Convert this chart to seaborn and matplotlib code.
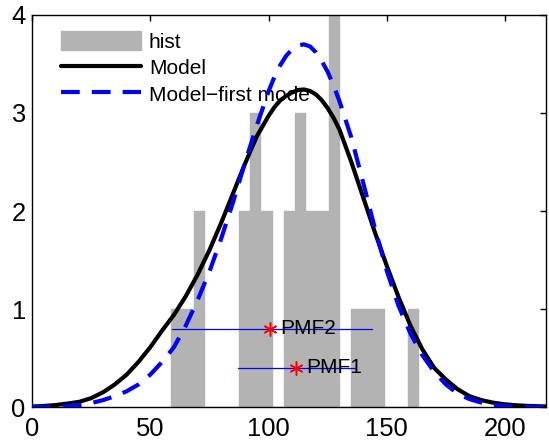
import numpy as np
import pandas as pd
import matplotlib
matplotlib.use("Agg")
import matplotlib.pyplot as plt
import seaborn as sns
from matplotlib.patches import Patch
from matplotlib.lines import Line2D

# ---------------- data ----------------
hist_counts = [1, 1, 2, 0, 0, 0, 2, 3, 2, 0, 2, 3, 2, 2, 4, 0, 1, 1, 1, 0, 0, 1]
hist_lo, hist_hi = 58.9, 163.6

curve_x = [0, 5, 10, 15, 20, 25, 30, 35, 40, 45, 50, 55, 60, 65, 70, 75, 80, 85, 90,
           95, 100, 102.5, 105, 107.5, 110, 112.5, 115, 117.5, 120, 122.5, 125, 127.5,
           130, 135, 140, 145, 150, 155, 160, 165,
           170, 175, 180, 185, 190, 195, 200, 205, 210, 215, 220]
model_y = [0.005, 0.01, 0.02, 0.035, 0.053, 0.09, 0.15, 0.23, 0.33, 0.46, 0.61, 0.78,
           0.94, 1.13, 1.35, 1.60, 1.88, 2.18, 2.48, 2.76, 2.97, 3.06, 3.13, 3.175, 3.21,
           3.235, 3.24, 3.225, 3.19, 3.13, 3.05, 2.95,
           2.83, 2.50, 2.14, 1.78, 1.44, 1.12, 0.83, 0.59, 0.40, 0.28, 0.18, 0.11,
           0.07, 0.044, 0.027, 0.017, 0.011, 0.007, 0.004]
first_mode_y = [0.0, 0.002, 0.005, 0.01, 0.02, 0.04, 0.07, 0.11, 0.16, 0.23, 0.33, 0.46,
                0.61, 0.83, 1.09, 1.38, 1.72, 2.09, 2.49, 2.87, 3.22, 3.37, 3.49, 3.585,
                3.65, 3.69, 3.70, 3.68, 3.62, 3.53, 3.42, 3.28,
                3.12, 2.75, 2.29, 1.82, 1.39, 1.03, 0.75, 0.53, 0.36, 0.23,
                0.135, 0.08, 0.045, 0.022, 0.01, 0.005, 0.002, 0.001, 0.0]

pmf_labels = ["PMF1", "PMF2"]
pmf_center = [111.6, 100.6]
pmf_level = [0.4, 0.8]
pmf_lo = [87.2, 59.0]
pmf_hi = [136.5, 143.6]

legend_labels = ["hist", "Model", "Model\u2212first mode"]
x_ticks = [0, 50, 100, 150, 200]
y_ticks = [0, 1, 2, 3, 4]

# ---------------- style ----------------
sns.set_style("white")
plt.rcParams["font.family"] = ["Liberation Sans", "DejaVu Sans"]
plt.rcParams["text.color"] = "black"

W, H = 549, 448
fig = plt.figure(figsize=(W / 100, H / 100), dpi=100)
ax = fig.add_axes([32 / W, 41 / H, 514 / W, 392 / H])

gray = "#b3b3b3"
nb = len(hist_counts)
bw = (hist_hi - hist_lo) / nb
centers = [hist_lo + bw * (i + 0.5) for i in range(nb)]
hist_df = pd.DataFrame({"x": centers, "w": hist_counts})
sns.histplot(data=hist_df, x="x", weights="w", bins=nb, binrange=(hist_lo, hist_hi),
             stat="count", color=gray, alpha=1, edgecolor=gray, linewidth=0.3,
             ax=ax, zorder=1)

curve_df = pd.DataFrame({"x": curve_x, "model": model_y, "first": first_mode_y})
sns.lineplot(data=curve_df, x="x", y="model", color="black", linewidth=3,
             ax=ax, zorder=3, sort=False, solid_joinstyle="round")
sns.lineplot(data=curve_df, x="x", y="first", color="blue", linewidth=3,
             ax=ax, zorder=4, sort=False)
ax.lines[-1].set_dashes((4.5, 2.9))
ax.lines[-1].set_dash_joinstyle("round")

for lab, c, yv, lo, hi in zip(pmf_labels, pmf_center, pmf_level, pmf_lo, pmf_hi):
    ax.plot([lo, hi], [yv, yv], color="blue", linewidth=0.9, zorder=5)
    ax.plot([c], [yv], marker=(6, 2, 0), color="red", markersize=10,
            markeredgewidth=1.1, zorder=6, linestyle="none")
    ax.text(c + 4.5, yv, lab, fontsize=15, va="center", ha="left", zorder=7,
            color="black")

ax.set_xlim(0, 217.3)
ax.set_ylim(0, 4)
ax.set_xticks(x_ticks)
ax.set_yticks(y_ticks)
ax.set_xlabel("")
ax.set_ylabel("")
ax.tick_params(direction="in", top=True, right=True, length=4, width=1,
               labelsize=18.4, colors="black")
ax.tick_params(axis="x", pad=7)
ax.tick_params(axis="y", pad=4.5)
for s in ax.spines.values():
    s.set_visible(True)
    s.set_color("black")
    s.set_linewidth(1.0)
ax.grid(False)

handles = [Patch(facecolor=gray, edgecolor=gray),
           Line2D([], [], color="black", linewidth=3),
           Line2D([], [], color="blue", linewidth=3, dashes=(4.5, 2.9))]
leg = ax.legend(handles, legend_labels, loc="upper left", bbox_to_anchor=(0.0558, 0.958),
                frameon=False, handlelength=3.85, handleheight=1.0, fontsize=15,
                labelspacing=0.28, handletextpad=0.38, borderaxespad=0, borderpad=0,
                labelcolor="black")
leg.set_zorder(2)

fig.savefig("out.png", dpi=100)
